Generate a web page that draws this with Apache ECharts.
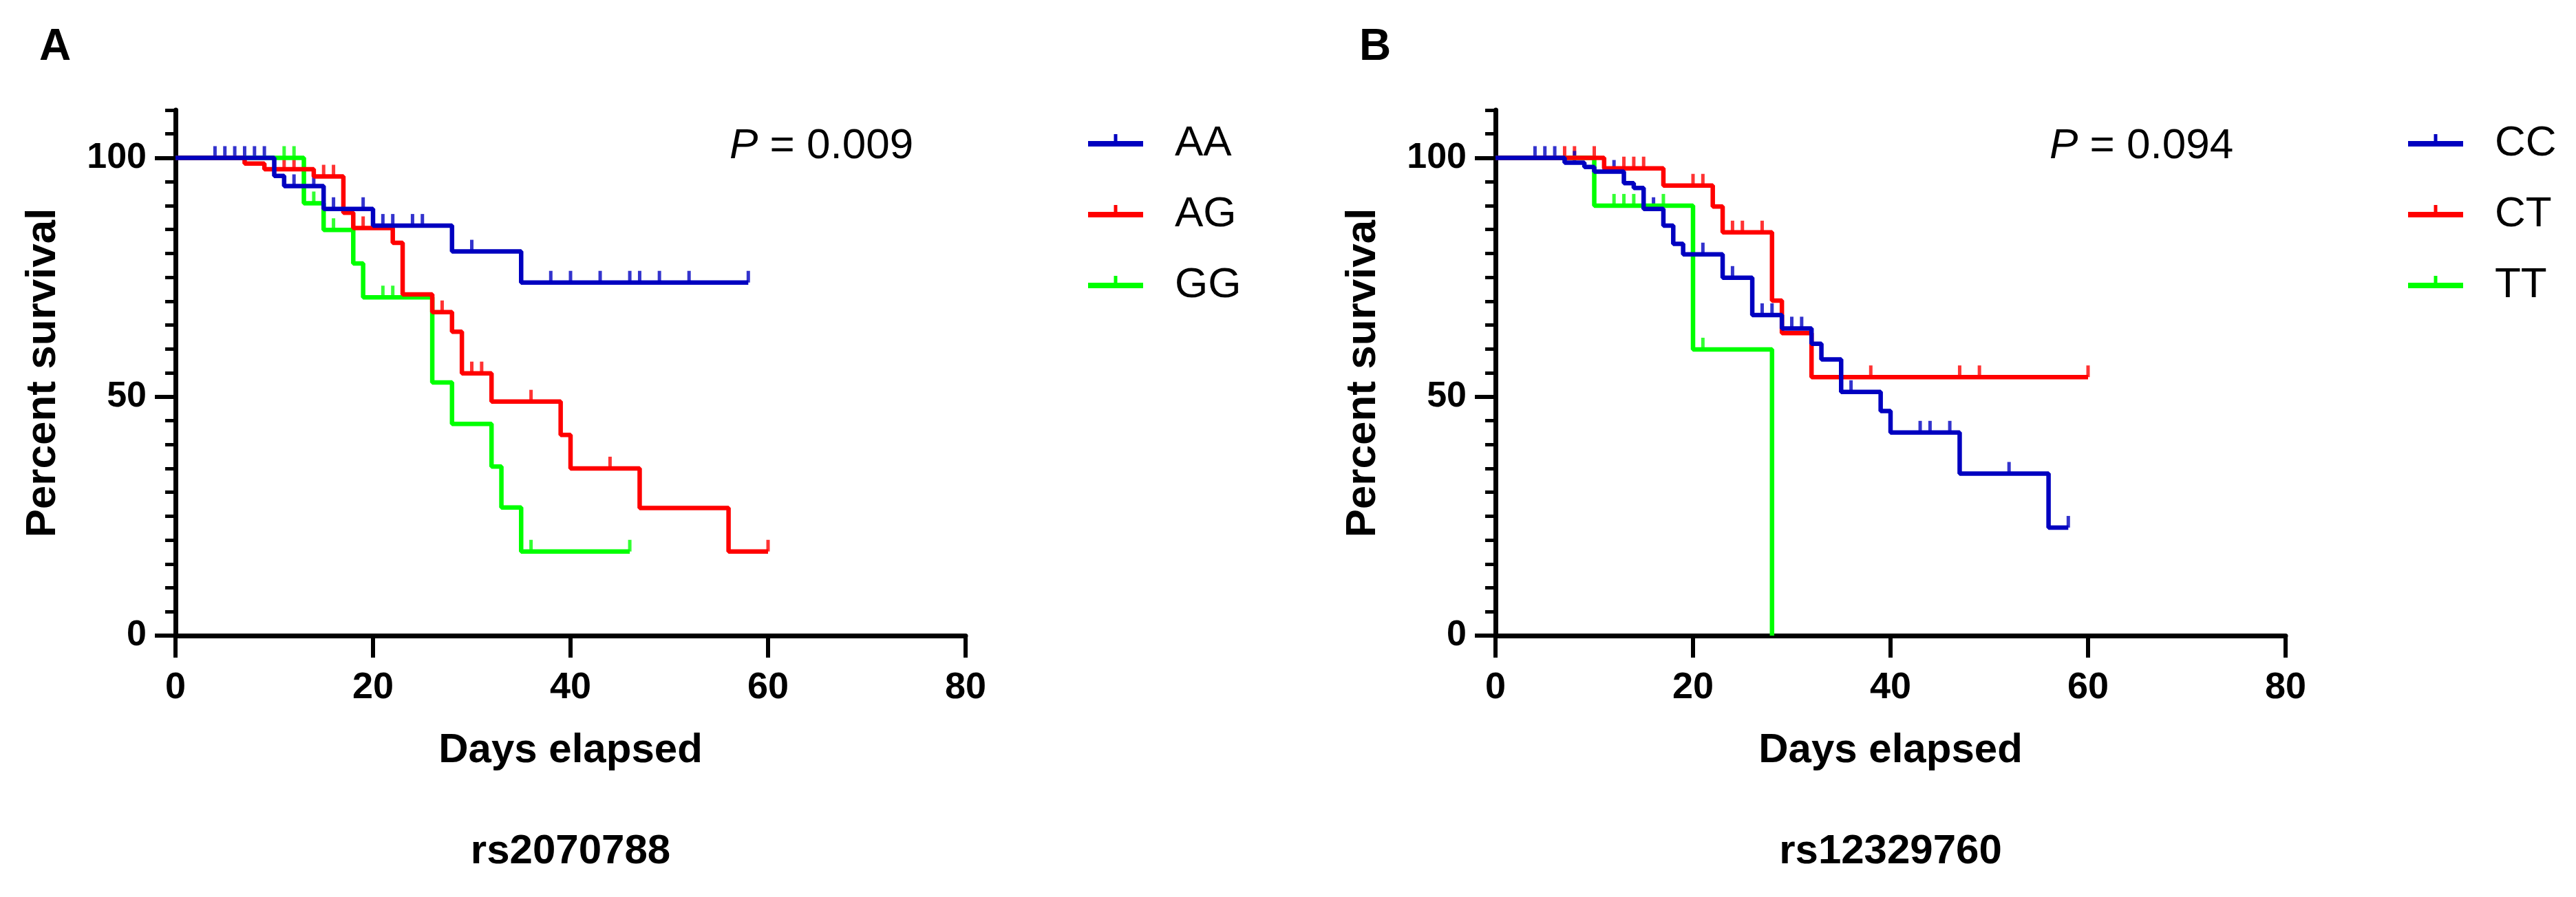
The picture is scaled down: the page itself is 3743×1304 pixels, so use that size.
<!DOCTYPE html>
<html>
  <head>
    <meta charset="utf-8" />
    <title>Survival curves</title>
    <script src="https://cdn.jsdelivr.net/npm/echarts@6/dist/echarts.min.js"></script>
    <style>
      body { margin: 0; background: #fff; }
    </style>
  </head>
  <body>
    <div id="main" style="width: 3743px; height: 1304px"></div>
    <script type="text/javascript">
      // Panel A - rs2070788
      var aaTime = [0, 10, 11, 15, 20, 28, 35, 58];
      var aaSurv = [100, 96.2, 94.1, 89.3, 85.8, 80.4, 73.9, 73.9];
      var aaCens = [4, 5, 6, 7, 8, 9, 12, 13, 14, 16, 17, 19, 21, 22, 24, 25, 30, 38, 40, 43, 46, 47, 49, 52, 58];

      var agTime = [0, 7, 9, 14, 17, 18, 22, 23, 26, 28, 29, 32, 39, 40, 47, 56, 60];
      var agSurv = [100, 98.8, 97.6, 96.1, 88.5, 85.3, 82.2, 71.4, 67.7, 63.6, 54.9, 49.0, 42.0, 35.0, 26.7, 17.6, 17.6];
      var agCens = [11, 12, 13, 15, 16, 19, 27, 30, 31, 36, 44, 60];

      var ggTime = [0, 13, 15, 18, 19, 26, 28, 32, 33, 35, 46];
      var ggSurv = [100, 90.5, 84.9, 77.9, 70.8, 53.0, 44.3, 35.4, 26.8, 17.6, 17.6];
      var ggCens = [11, 12, 14, 16, 21, 22, 36, 46];

      // Panel B - rs12329760
      var ccTime = [0, 7, 9, 10, 13, 14, 15, 17, 18, 19, 23, 26, 29, 32, 33, 35, 39, 40, 47, 56, 58];
      var ccSurv = [100, 99.0, 98.1, 97.1, 94.7, 93.7, 89.3, 85.8, 82.0, 79.8, 74.9, 67.1, 64.3, 61.1, 57.8, 51.0, 47.0, 42.5, 33.9, 22.6, 22.6];
      var ccCens = [4, 5, 6, 8, 11, 12, 16, 20, 21, 24, 27, 28, 30, 31, 36, 43, 44, 46, 52, 58];

      var ctTime = [0, 11, 17, 22, 23, 28, 29, 32, 60];
      var ctSurv = [100, 97.8, 94.2, 89.8, 84.4, 70.1, 63.3, 54.1, 54.1];
      var ctCens = [7, 8, 10, 13, 14, 15, 20, 21, 24, 25, 27, 38, 47, 49, 60];

      var ttTime = [0, 10, 20, 28];
      var ttSurv = [100, 90.0, 59.9, 0];
      var ttCens = [12, 13, 14, 17, 21];

      var yLabels = [0, 50, 100];
      var legendA = ["AA", "AG", "GG"];
      var legendB = ["CC", "CT", "TT"];

      var BLUE = "#0000c0";
      var RED = "#ff0000";
      var GREEN = "#00ff00";
      var FONT = "'Liberation Sans', Arial, sans-serif";
    </script>

    <script type="text/javascript">
      var myChart = echarts.init(document.getElementById("main"));

      function steps(times, surv) {
        var out = [];
        for (var i = 0; i < times.length; i++) out.push([times[i], surv[i]]);
        return out;
      }

      // censor mark sits on the curve value at that time
      function censors(cens, times, surv) {
        var out = [];
        for (var i = 0; i < cens.length; i++) {
          var v = surv[0];
          for (var j = 0; j < times.length; j++) {
            if (times[j] <= cens[i]) v = surv[j];
          }
          out.push([cens[i], v]);
        }
        return out;
      }

      function km(name, color, times, surv, cens, g) {
        return [
          {
            name: name,
            type: "line",
            step: "end",
            xAxisIndex: g,
            yAxisIndex: g * 2,
            data: steps(times, surv),
            showSymbol: false,
            symbol: "none",
            color: color,
            lineStyle: { width: 6.5, color: color },
            silent: true,
          },
          {
            name: name,
            type: "scatter",
            xAxisIndex: g,
            yAxisIndex: g * 2,
            data: censors(cens, times, surv),
            symbol: "rect",
            symbolSize: [5, 17],
            symbolOffset: [0, -8.5],
            itemStyle: { color: color },
            silent: true,
          },
        ];
      }

      function xAx(g) {
        return {
          gridIndex: g,
          type: "value",
          min: 0,
          max: 80,
          interval: 20,
          axisLine: { show: true, onZero: false, lineStyle: { color: "#000", width: 7 } },
          axisTick: { length: 32, lineStyle: { color: "#000", width: 6 } },
          axisLabel: { margin: 49, fontSize: 54, fontWeight: "bold", color: "#000", fontFamily: FONT },
          splitLine: { show: false },
          name: "Days elapsed",
          nameLocation: "middle",
          nameGap: 137,
          nameTextStyle: { fontSize: 60, fontWeight: "bold", color: "#000", fontFamily: FONT },
        };
      }

      function yAxes(g) {
        return [
          {
            gridIndex: g,
            position: "left",
            type: "value",
            min: 0,
            max: 110,
            interval: 5,
            axisLine: { show: true, onZero: false, lineStyle: { color: "#000", width: 7 } },
            axisTick: { length: 15, lineStyle: { color: "#000", width: 5 } },
            axisLabel: { show: false },
            splitLine: { show: false },
            name: "Percent survival",
            nameLocation: "middle",
            nameGap: 161,
            nameTextStyle: { fontSize: 62, fontWeight: "bold", color: "#000", fontFamily: FONT },
          },
          {
            gridIndex: g,
            position: "left",
            offset: 0,
            type: "value",
            min: 0,
            max: 110,
            interval: 5,
            axisLine: { show: false, onZero: false },
            axisTick: { length: 30, customValues: yLabels, lineStyle: { color: "#000", width: 6 } },
            axisLabel: { customValues: yLabels, margin: 42, fontSize: 52, fontWeight: "bold", color: "#000", fontFamily: FONT },
            splitLine: { show: false },
          },
        ];
      }

      var iconPath = "path://M0,0 M0,28 M0,10H80V18H0Z M37.5,0H42.5V10H37.5Z";

      function legend(left, names) {
        return {
          orient: "vertical",
          left: left,
          top: 178,
          padding: 0,
          itemWidth: 80,
          itemHeight: 28,
          itemGap: 41,
          icon: iconPath,
          selectedMode: false,
          data: names,
          textStyle: { fontSize: 62, color: "#000", fontFamily: FONT, padding: [0, 0, 0, 41] },
        };
      }

      function label(x, y, text, size, weight) {
        return {
          type: "text",
          x: x,
          y: y,
          style: {
            text: text,
            fontSize: size,
            fontWeight: weight,
            fontFamily: FONT,
            fill: "#000",
            align: "center",
            verticalAlign: "middle",
          },
        };
      }

      function pText(x, text) {
        return {
          type: "text",
          x: x,
          y: 213,
          style: {
            text: "{i|P} = " + text,
            fontSize: 62,
            fontFamily: FONT,
            fill: "#000",
            align: "left",
            verticalAlign: "middle",
            rich: { i: { fontStyle: "italic", fontSize: 62, fontFamily: FONT, fill: "#000" } },
          },
        };
      }

      var series = [].concat(
        km("GG", GREEN, ggTime, ggSurv, ggCens, 0),
        km("AG", RED, agTime, agSurv, agCens, 0),
        km("AA", BLUE, aaTime, aaSurv, aaCens, 0),
        km("TT", GREEN, ttTime, ttSurv, ttCens, 1),
        km("CT", RED, ctTime, ctSurv, ctCens, 1),
        km("CC", BLUE, ccTime, ccSurv, ccCens, 1)
      );

      var option = {
        animation: false,
        backgroundColor: "#fff",
        grid: [
          { left: 255, top: 160, width: 1148, height: 764 },
          { left: 2173, top: 160, width: 1148, height: 764 },
        ],
        xAxis: [xAx(0), xAx(1)],
        yAxis: yAxes(0).concat(yAxes(1)),
        legend: [legend(1581, legendA), legend(3499, legendB)],
        graphic: [
          label(80, 69, "A", 64, "bold"),
          label(1998, 69, "B", 64, "bold"),
          label(829, 1238, "rs2070788", 60, "bold"),
          label(2747, 1238, "rs12329760", 60, "bold"),
          pText(1060, "0.009"),
          pText(2978, "0.094"),
        ],
        series: series,
      };

      myChart.setOption(option);
    </script>
  </body>
</html>
